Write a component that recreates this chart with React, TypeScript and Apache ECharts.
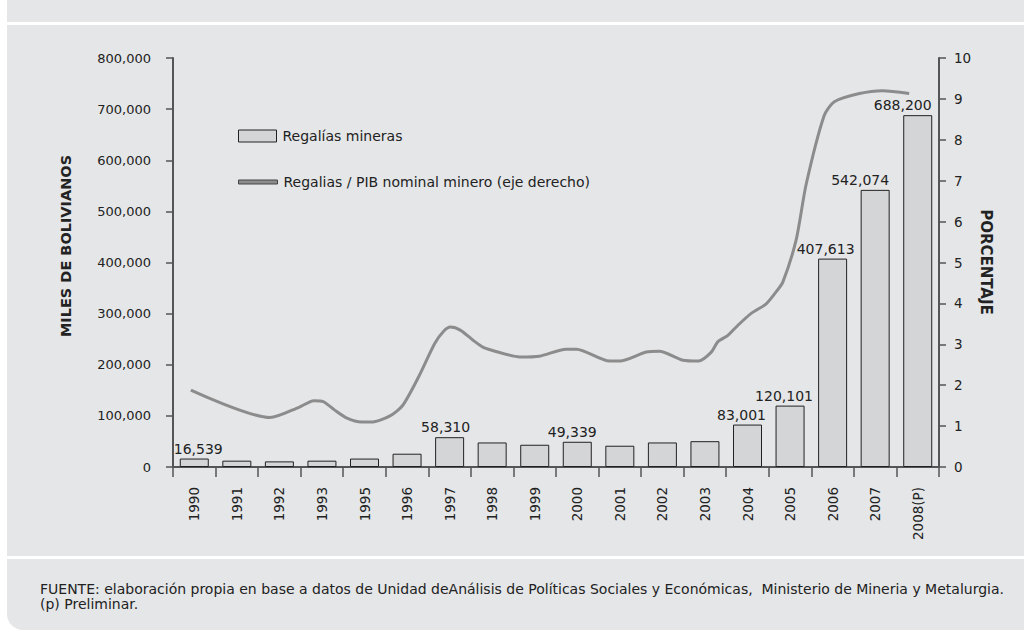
import React, { useEffect, useRef } from "react";
import * as echarts from "echarts";

const categories = ["1990", "1991", "1992", "1993", "1995", "1996", "1997", "1998", "1999", "2000", "2001", "2002", "2003", "2004", "2005", "2006", "2007", "2008(P)"];
const regalias = [16539, 12400, 11000, 12400, 16500, 26000, 58310, 48000, 43500, 49339, 41600, 48000, 50500, 83001, 120101, 407613, 542074, 688200];
const labeledCategories = ["1990", "1997", "2000", "2004", "2005", "2006", "2007", "2008(P)"];
// ratio line: [category position (index), percentage]
const ratioLine: [number, number][] = [
  [-0.08, 1.88], [1.78, 1.21], [2.46, 1.46], [2.81, 1.62], [3.03, 1.6], [3.3, 1.39], [3.56, 1.21],
  [3.93, 1.1], [4.16, 1.1], [4.6, 1.25], [4.9, 1.51], [5.27, 2.2], [5.65, 3.02], [5.86, 3.32],
  [6.02, 3.42], [6.26, 3.34], [6.55, 3.1], [6.78, 2.93], [7.01, 2.85], [7.65, 2.69], [8.11, 2.71],
  [8.74, 2.88], [8.98, 2.88], [9.76, 2.59], [10.0, 2.59], [10.62, 2.81], [10.93, 2.83], [11.48, 2.61],
  [11.85, 2.59], [12.15, 2.81], [12.3, 3.06], [12.54, 3.22], [12.77, 3.46], [13.08, 3.75], [13.44, 3.99],
  [13.67, 4.28], [13.83, 4.52], [14.14, 5.54], [14.38, 6.92], [14.8, 8.59], [15.04, 8.93], [15.63, 9.13],
  [16.17, 9.2], [16.8, 9.13],
];
const leftTicks = { min: 0, max: 800000, interval: 100000 };
const rightTicks = { min: 0, max: 10, interval: 1 };
const barName = "Regalías mineras";
const lineName = "Regalias / PIB nominal minero (eje derecho)";
const leftTitle = "MILES DE BOLIVIANOS";
const rightTitle = "PORCENTAJE";
const footer1 = "FUENTE: elaboración propia en base a datos de Unidad deAnálisis de Políticas Sociales y Económicas,  Ministerio de Mineria y Metalurgia.";
const footer2 = "(p) Preliminar.";

const FONT = "'DejaVu Sans', Verdana, sans-serif";
const GRAY = "#e5e6e8";

export default function App() {
  const ref = useRef<HTMLDivElement>(null);
  useEffect(() => {
    if (!ref.current) return;
    const chart = echarts.init(ref.current, undefined, { renderer: "svg" });
    const labelShift: Record<string, number> = { "1990": 4, "1997": -4, "2000": -5, "2004": -6, "2005": -6, "2006": -7, "2007": -15, "2008(P)": -15 };
    const fmt = (v: number) => v.toLocaleString("en-US");
    const barData = regalias.map((v, i) => {
      const c = categories[i];
      const show = labeledCategories.includes(c);
      return {
        value: v,
        label: show
          ? { show: true, position: "top", distance: 3, offset: [labelShift[c] || 0, 0], formatter: () => fmt(v), fontSize: 14, color: "#222", fontFamily: FONT }
          : { show: false },
      };
    });
    const W = 1017;
    chart.setOption({
      animation: false,
      backgroundColor: "#ffffff",
      textStyle: { fontFamily: FONT },
      graphic: [
        { type: "rect", z: -10, shape: { x: 0, y: 0, width: W, height: 22 }, style: { fill: GRAY } },
        { type: "rect", z: -10, shape: { x: 0, y: 25, width: W, height: 531 }, style: { fill: GRAY } },
        { type: "rect", z: -10, shape: { x: 0, y: 559, width: W, height: 71, r: [0, 0, 0, 16] }, style: { fill: GRAY } },
        { type: "text", x: 59, y: 246, rotation: Math.PI / 2, style: { text: leftTitle, fontFamily: FONT, fontWeight: "bold", fontSize: 14.5, fill: "#222", align: "center", verticalAlign: "middle" } },
        { type: "text", x: 979, y: 262, rotation: -Math.PI / 2, style: { text: rightTitle, fontFamily: FONT, fontWeight: "bold", fontSize: 15, fill: "#222", align: "center", verticalAlign: "middle" } },
        { type: "text", x: 33, y: 589, style: { text: footer1, fontFamily: FONT, fontSize: 14, fill: "#222", verticalAlign: "middle" } },
        { type: "text", x: 33, y: 604, style: { text: footer2, fontFamily: FONT, fontSize: 14, fill: "#222", verticalAlign: "middle" } },
      ],
      legend: [
        {
          data: [{ name: barName, icon: "rect" }],
          left: 226, top: 124, itemWidth: 38, itemHeight: 12,
          itemStyle: { color: "#d4d5d7", borderColor: "#222", borderWidth: 1 },
          textStyle: { fontSize: 14, color: "#222", fontFamily: FONT, padding: [0, 0, 0, 1] },
        },
        {
          data: [{ name: lineName, icon: "rect" }],
          left: 226, top: 170, itemWidth: 39, itemHeight: 4,
          itemStyle: { color: "#8c8c8c", borderColor: "#444", borderWidth: 1 },
          lineStyle: { width: 0 },
          textStyle: { fontSize: 14, color: "#222", fontFamily: FONT, padding: [0, 0, 0, 1] },
        },
      ],
      grid: { left: 166, right: W - 932, top: 58, bottom: 163 },
      xAxis: [
        {
          type: "category",
          data: categories,
          axisLine: { onZero: false, lineStyle: { color: "#555", width: 2 } },
          axisTick: { show: true, length: 10, lineStyle: { color: "#555", width: 1.5 } },
          axisLabel: { rotate: 90, margin: 20, fontSize: 13.5, color: "#222", fontFamily: FONT },
        },
        { type: "value", min: -0.5, max: 17.5, show: false },
      ],
      yAxis: [
        {
          type: "value",
          ...leftTicks,
          splitLine: { show: false },
          axisLine: { show: true, onZero: false, lineStyle: { color: "#555", width: 2 } },
          axisTick: { show: true, length: 7, lineStyle: { color: "#555", width: 1.5 } },
          axisLabel: { margin: 22, fontSize: 13, color: "#222", fontFamily: FONT, formatter: (v: number) => fmt(v) },
        },
        {
          type: "value",
          ...rightTicks,
          position: "right",
          splitLine: { show: false },
          axisLine: { show: true, onZero: false, lineStyle: { color: "#555", width: 2 } },
          axisTick: { show: true, length: 7, lineStyle: { color: "#555", width: 1.5 } },
          axisLabel: { margin: 15, fontSize: 13.5, color: "#222", fontFamily: FONT },
        },
      ],
      series: [
        {
          name: barName,
          type: "bar",
          xAxisIndex: 0,
          yAxisIndex: 0,
          barWidth: 29,
          data: barData,
          itemStyle: { color: "#d4d5d7", borderColor: "#222", borderWidth: 1 },
        },
        {
          name: lineName,
          type: "line",
          xAxisIndex: 1,
          yAxisIndex: 1,
          data: ratioLine,
          smooth: 0.25,
          showSymbol: false,
          symbol: "none",
          lineStyle: { color: "#8c8c8c", width: 3 },
          itemStyle: { color: "#8c8c8c" },
        },
      ],
    });
    return () => chart.dispose();
  }, []);
  return (
    <div style={{ position: "absolute", left: 7, top: 0, width: 1017, height: 630 }}>
      <div ref={ref} style={{ width: 1017, height: 630 }} />
    </div>
  );
}
